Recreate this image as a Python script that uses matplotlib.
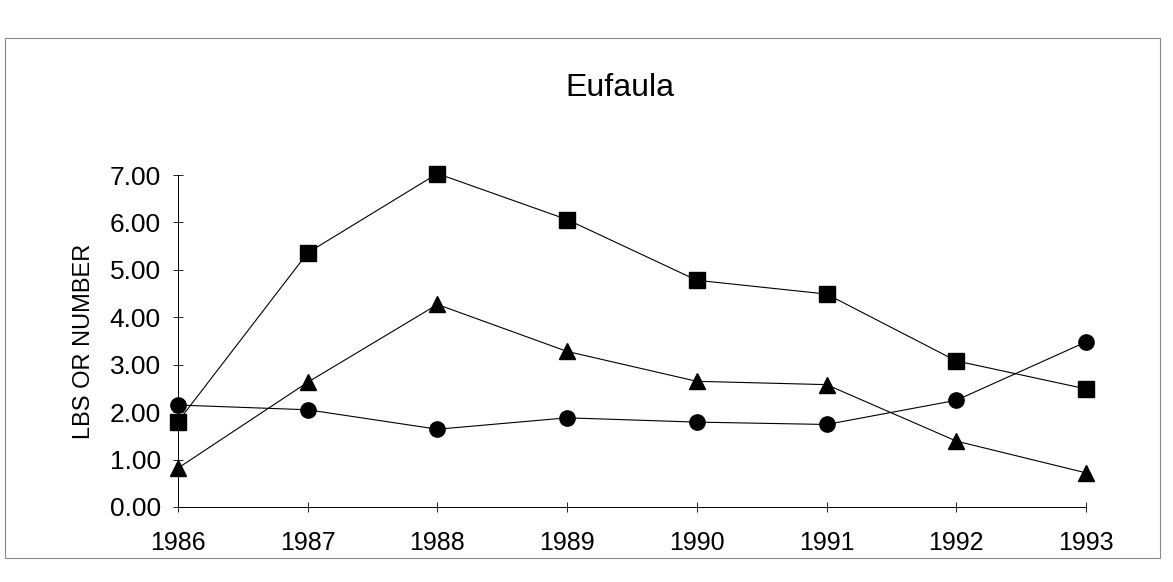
import matplotlib.pyplot as plt
from matplotlib.patches import Rectangle

plt.rcParams["font.family"] = ["Liberation Sans", "DejaVu Sans"]

years = [1986, 1987, 1988, 1989, 1990, 1991, 1992, 1993]
squares = [1.80, 5.36, 7.03, 6.06, 4.78, 4.49, 3.08, 2.49]
circles = [2.15, 2.05, 1.64, 1.88, 1.79, 1.74, 2.25, 3.48]
triangles = [0.82, 2.63, 4.27, 3.28, 2.65, 2.58, 1.39, 0.72]
yticks = [0, 1, 2, 3, 4, 5, 6, 7]

fig = plt.figure(figsize=(11.73, 5.82), dpi=100)
ax = fig.add_axes([178 / 1173, 1 - 507 / 582, (1086 - 178) / 1173, (507 - 175) / 582])

style = dict(color="black", linewidth=0.8, markersize=11, clip_on=False)
ax.plot(years, squares, marker="s", **style)
ax.plot(years, circles, marker="o", **style)
ax.plot(years, triangles, marker="^", **style)

ax.set_xlim(1986, 1993)
ax.set_ylim(0, 7)
ax.set_xticks(years)
ax.set_yticks(yticks)
ax.set_yticklabels([f"{v:.2f}" for v in yticks])
ax.tick_params(axis="both", direction="inout", length=7, width=0.6)
ax.tick_params(axis="x", pad=14, labelsize=18)
ax.tick_params(axis="y", pad=9, labelsize=19)
for side in ("top", "right"):
    ax.spines[side].set_visible(False)
for side in ("left", "bottom"):
    ax.spines[side].set_linewidth(0.7)
ax.set_ylabel("LBS OR NUMBER", fontsize=17, labelpad=10)

fig.text(620 / 1173, 1 - 88 / 582, "Eufaula", ha="center", va="center", fontsize=23)
fig.patches.append(Rectangle((5 / 1173, 1 - 558 / 582), 1155 / 1173, 520 / 582,
                             transform=fig.transFigure, fill=False,
                             edgecolor="#888888", linewidth=0.8))

fig.savefig("out.png", dpi=100)
